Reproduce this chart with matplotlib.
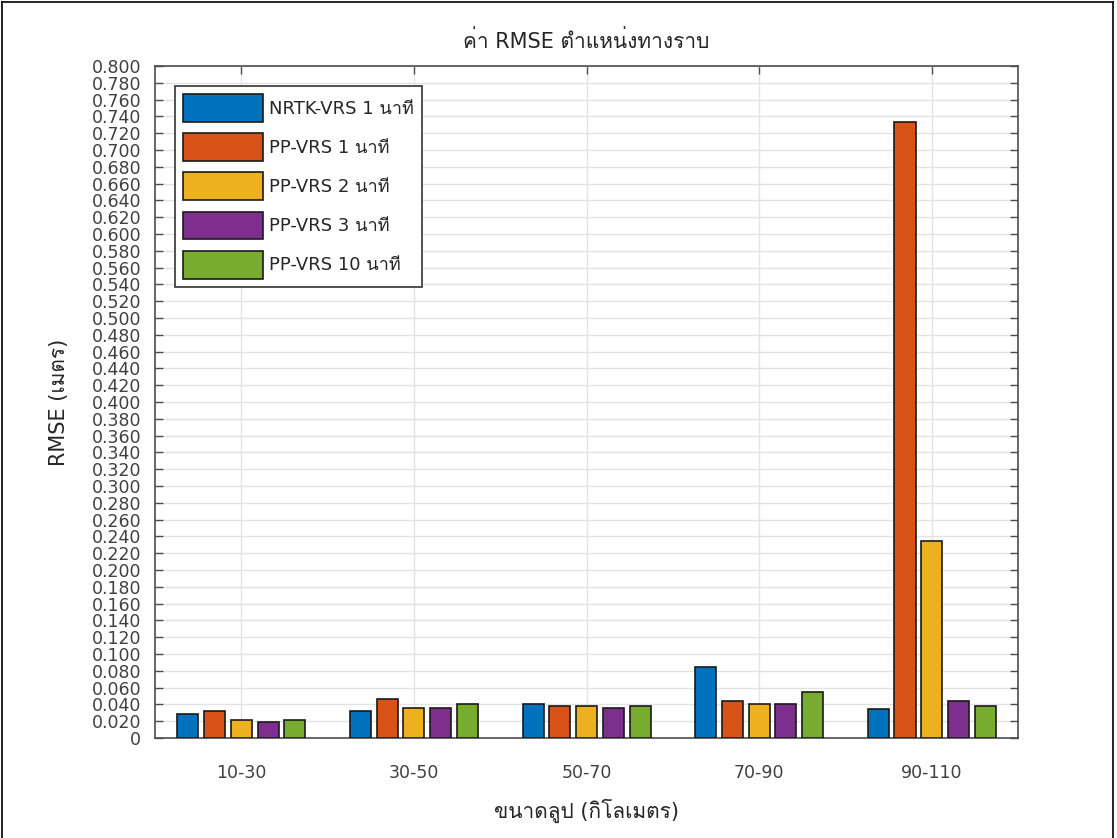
import numpy as np
import matplotlib
matplotlib.use('Agg')
from matplotlib import pyplot as plt
from matplotlib import font_manager
from matplotlib.ft2font import FT2Font
from matplotlib.lines import Line2D

# data
groups = ['10-30', '30-50', '50-70', '70-90', '90-110']
nrtk_1 = [0.029, 0.032, 0.040, 0.084, 0.034]
pp_1 = [0.032, 0.046, 0.038, 0.044, 0.733]
pp_2 = [0.021, 0.036, 0.038, 0.040, 0.234]
pp_3 = [0.019, 0.036, 0.036, 0.040, 0.044]
pp_10 = [0.021, 0.040, 0.038, 0.055, 0.038]
series_labels = ['NRTK-VRS 1 นาที', 'PP-VRS 1 นาที', 'PP-VRS 2 นาที',
                 'PP-VRS 3 นาที', 'PP-VRS 10 นาที']
colors = ['#0072BD', '#D95319', '#EDB120', '#7E2F8E', '#77AC30']

# look for an installed family that has Thai glyphs, put it after DejaVu Sans
thai_family = None
for fe in font_manager.fontManager.ttflist:
    try:
        if 0x0E19 in FT2Font(fe.fname).get_charmap():
            thai_family = fe.name
            break
    except Exception:
        pass
families = ['DejaVu Sans'] + ([thai_family] if thai_family else [])
plt.rcParams['font.family'] = families

txt = '#404040'
frame = '#4d4d4d'

fig = plt.figure(figsize=(11.17, 8.38), dpi=100)
ax = fig.add_axes([0.1388, 0.1193, 0.7726, 0.8019])

x = np.arange(1, len(groups) + 1)
step = 0.155
width = 0.122
all_series = [nrtk_1, pp_1, pp_2, pp_3, pp_10]
for i, vals in enumerate(all_series):
    ax.bar(x + (i - 2) * step, vals, width, color=colors[i], edgecolor='#1a1a1a',
           linewidth=1.2, label=series_labels[i], zorder=3)

ax.set_xlim(0.5, 5.5)
ax.set_ylim(0, 0.8)
yt = np.arange(0, 0.8001, 0.02)
ax.set_yticks(yt)
ax.set_yticklabels(['0' if v == 0 else '%.3f' % v for v in yt])
ax.set_xticks(x)
ax.set_xticklabels(groups)
ax.tick_params(axis='both', direction='in', labelsize=12.5, labelcolor=txt,
               color=frame, top=True, right=True, length=6, width=1.0)
ax.tick_params(axis='y', pad=10)
ax.tick_params(axis='x', pad=19)
ax.grid(True, color='#e3e3e3', linewidth=1.0, zorder=0)
ax.set_axisbelow(True)
for s in ax.spines.values():
    s.set_color(frame)
    s.set_linewidth(1.2)

ax.set_title('ค่า RMSE ตำแหน่งทางราบ', fontsize=15, color='#262626', pad=13)
ax.set_xlabel('ขนาดลูป (กิโลเมตร)', fontsize=15, color='#262626', labelpad=12)
ax.set_ylabel('RMSE (เมตร)', fontsize=15, color='#262626', labelpad=16)

leg = ax.legend(loc='upper left', bbox_to_anchor=(0.023, 0.97), fontsize=13,
                handlelength=4.45, handleheight=2.0, labelspacing=0.62,
                fancybox=False, edgecolor='#333333', framealpha=1,
                borderpad=0.45, handletextpad=0.3, borderaxespad=0)
leg.get_frame().set_linewidth(1.2)
for t in leg.get_texts():
    t.set_color('#262626')

# screenshot frame on left, top, right
for xs, ys in [([0.002, 0.002], [0, 0.998]), ([0.002, 0.996], [0.998, 0.998]),
               ([0.996, 0.996], [0, 0.998])]:
    fig.add_artist(Line2D(xs, ys, transform=fig.transFigure, color='black', linewidth=1.2))

fig.savefig('out.png', dpi=100)
